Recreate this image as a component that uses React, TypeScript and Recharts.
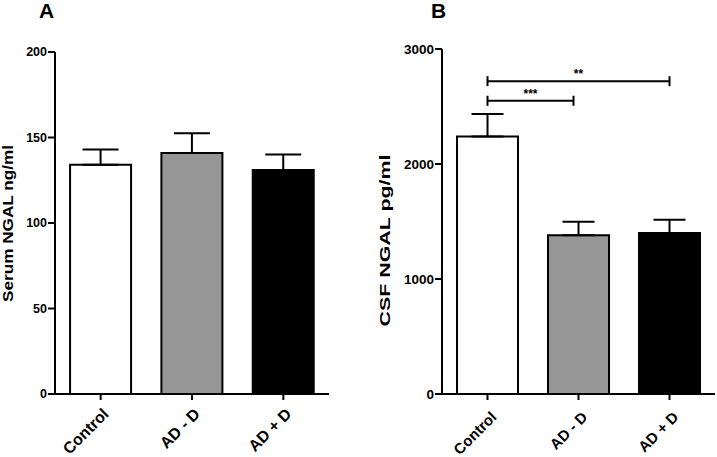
import React from 'react';
import { BarChart, Bar, XAxis, YAxis, Cell, ErrorBar, ReferenceLine } from 'recharts';

const FONT = '"Liberation Sans", Arial, sans-serif';

// groups + values
const categories = ['Control', 'AD - D', 'AD + D'];
const serumMean = [134, 141, 131];
const serumSem = [9, 11.5, 9];
const csfMean = [2240, 1380, 1400];
const csfSem = [195, 118, 115];
const barFills = ['#ffffff', '#969696', '#000000'];

const serumTicks = [0, 50, 100, 150, 200];
const csfTicks = [0, 1000, 2000, 3000];

// significance brackets for panel B
const brackets = [
  { from: 'Control', to: 'AD - D', y: 2550, label: '***', inset: 5 },
  { from: 'Control', to: 'AD + D', y: 2720, label: '**', inset: 0 },
];

// only the upper whisker is shown, like Prism
const serumData = categories.map((name, i) => ({ name, value: serumMean[i], err: [0, serumSem[i]] }));
const csfData = categories.map((name, i) => ({ name, value: csfMean[i], err: [0, csfSem[i]] }));

const makeTick = (fontSize: number, dx: number, dy: number) => (props: any) => {
  const { x, y, payload } = props;
  return (
    <g transform={`translate(${x + dx},${y + dy})`}>
      <text
        transform="rotate(-45)"
        textAnchor="end"
        fontFamily={FONT}
        fontWeight="bold"
        fontSize={fontSize}
        fill="#000"
      >
        {payload.value}
      </text>
    </g>
  );
};

const makeBracket = (label: string, inset: number) => (props: any) => {
  const { x1, y1, x2 } = props;
  const right = x2 - inset;
  return (
    <g>
      <line x1={x1} y1={y1} x2={right} y2={y1} stroke="#000" strokeWidth={2} />
      <line x1={x1} y1={y1 - 5} x2={x1} y2={y1 + 5} stroke="#000" strokeWidth={2} />
      <line x1={right} y1={y1 - 5} x2={right} y2={y1 + 5} stroke="#000" strokeWidth={2} />
      <text
        x={(x1 + right) / 2}
        y={y1 - 3}
        textAnchor="middle"
        fontFamily={FONT}
        fontWeight="bold"
        fontSize={12}
        fill="#000"
      >
        {label}
      </text>
    </g>
  );
};

const axisLine = { stroke: '#000', strokeWidth: 2 };

export default function App() {
  return (
    <div style={{ position: 'absolute', left: 0, top: 0, width: 717, height: 457, background: '#fff', overflow: 'hidden' }}>
      <div style={{ position: 'absolute', left: 0, top: 0 }}>
        <BarChart
          width={360}
          height={457}
          data={serumData}
          margin={{ top: 52, right: 31, bottom: 3, left: 10 }}
          barCategoryGap="16.5%"
        >
          <XAxis
            dataKey="name"
            height={60}
            axisLine={axisLine}
            tickLine={axisLine}
            tickSize={6}
            tickMargin={2}
            interval={0}
            tick={makeTick(16, 9, 13)}
          />
          <YAxis
            domain={[0, 200]}
            ticks={serumTicks}
            width={45}
            axisLine={axisLine}
            tickLine={axisLine}
            tickSize={7}
            tickMargin={1}
            tick={{ fill: '#000', fontSize: 12.5, fontWeight: 'bold', fontFamily: FONT }}
          />
          <Bar dataKey="value" stroke="#000" strokeWidth={2} isAnimationActive={false}>
            {serumData.map((d, i) => (
              <Cell key={d.name} fill={barFills[i]} />
            ))}
            <ErrorBar dataKey="err" width={18} stroke="#000" strokeWidth={2} direction="y" />
          </Bar>
        </BarChart>
      </div>

      <div style={{ position: 'absolute', left: 360, top: 0 }}>
        <BarChart
          width={357}
          height={457}
          data={csfData}
          margin={{ top: 49, right: 2, bottom: 3, left: 22 }}
          barCategoryGap="16.5%"
        >
          <XAxis
            dataKey="name"
            height={60}
            axisLine={axisLine}
            tickLine={axisLine}
            tickSize={6}
            tickMargin={2}
            interval={0}
            tick={makeTick(15, 10, 16)}
          />
          <YAxis
            domain={[0, 3000]}
            ticks={csfTicks}
            width={60}
            axisLine={axisLine}
            tickLine={axisLine}
            tickSize={7}
            tickMargin={1}
            tick={{ fill: '#000', fontSize: 13.5, fontWeight: 'bold', fontFamily: FONT }}
          />
          <Bar dataKey="value" stroke="#000" strokeWidth={2} isAnimationActive={false}>
            {csfData.map((d, i) => (
              <Cell key={d.name} fill={barFills[i]} />
            ))}
            <ErrorBar dataKey="err" width={16} stroke="#000" strokeWidth={2} direction="y" />
          </Bar>
          {brackets.map((b) => (
            <ReferenceLine
              key={b.label}
              segment={[{ x: b.from, y: b.y }, { x: b.to, y: b.y }]}
              shape={makeBracket(b.label, b.inset)}
            />
          ))}
        </BarChart>
      </div>

      {/* panel letters and axis titles */}
      <svg width={717} height={457} style={{ position: 'absolute', left: 0, top: 0, pointerEvents: 'none' }}>
        <g fontFamily={FONT} fontWeight="bold" fill="#000">
          <text x={39} y={17.5} fontSize={21}>A</text>
          <text x={431} y={17.5} fontSize={21}>B</text>
          <text
            transform="translate(13.3,223.5) rotate(-90)"
            textAnchor="middle"
            fontSize={15}
            textLength={157}
            lengthAdjust="spacingAndGlyphs"
          >
            Serum NGAL ng/ml
          </text>
          <text
            transform="translate(390,240.5) rotate(-90)"
            textAnchor="middle"
            fontSize={15.5}
            textLength={172}
            lengthAdjust="spacingAndGlyphs"
          >
            CSF NGAL pg/ml
          </text>
        </g>
      </svg>
    </div>
  );
}
